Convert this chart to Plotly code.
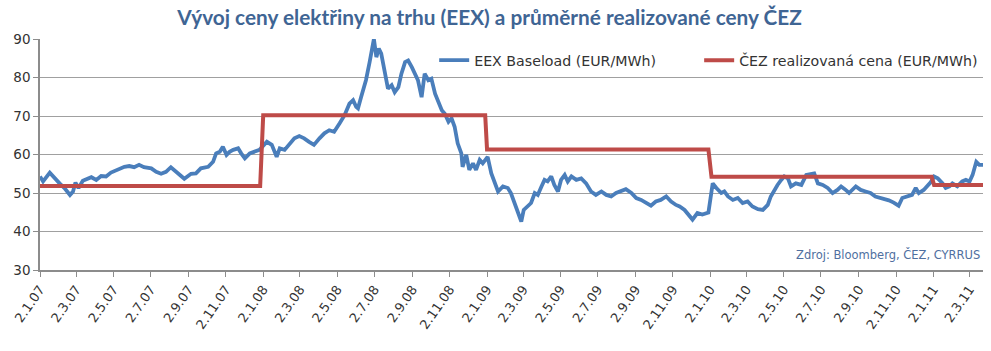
import plotly.graph_objects as go

# ---------------- data ----------------
eex_dates = [
    "2007-01-02", "2007-01-07", "2007-01-18", "2007-01-26", "2007-02-03", "2007-02-11", "2007-02-20",
    "2007-02-25", "2007-03-01", "2007-03-06", "2007-03-13", "2007-03-27", "2007-04-04", "2007-04-12",
    "2007-04-20", "2007-04-28", "2007-05-09", "2007-05-20", "2007-05-28", "2007-06-05", "2007-06-13",
    "2007-06-21", "2007-07-03", "2007-07-11", "2007-07-19", "2007-07-27", "2007-08-04", "2007-08-15",
    "2007-08-26", "2007-09-06", "2007-09-14", "2007-09-22", "2007-10-04", "2007-10-12", "2007-10-17",
    "2007-10-23", "2007-10-28", "2007-11-03", "2007-11-08", "2007-11-14", "2007-11-22", "2007-11-27",
    "2007-12-03", "2007-12-11", "2007-12-19", "2007-12-27",
    "2008-01-08", "2008-01-16", "2008-01-24", "2008-01-29", "2008-02-06", "2008-02-14", "2008-02-22",
    "2008-03-01", "2008-03-09", "2008-03-17", "2008-03-25", "2008-04-03", "2008-04-11", "2008-04-19",
    "2008-04-27", "2008-05-06", "2008-05-14", "2008-05-22", "2008-05-28", "2008-06-02", "2008-06-05",
    "2008-06-10", "2008-06-18", "2008-06-24", "2008-06-28", "2008-07-01", "2008-07-05", "2008-07-09",
    "2008-07-13", "2008-07-19", "2008-07-24", "2008-07-30", "2008-08-04", "2008-08-10", "2008-08-15",
    "2008-08-21", "2008-08-26", "2008-09-01", "2008-09-06", "2008-09-11", "2008-09-17", "2008-09-22",
    "2008-09-28", "2008-10-03", "2008-10-09", "2008-10-14", "2008-10-20", "2008-10-25", "2008-10-31",
    "2008-11-05", "2008-11-10", "2008-11-15", "2008-11-21", "2008-11-23", "2008-11-29", "2008-12-04",
    "2008-12-10", "2008-12-15", "2008-12-21", "2008-12-26",
    "2009-01-03", "2009-01-09", "2009-01-14", "2009-01-20", "2009-01-28", "2009-02-05", "2009-02-10",
    "2009-02-16", "2009-02-21", "2009-02-27", "2009-03-03", "2009-03-10", "2009-03-15", "2009-03-21",
    "2009-03-26", "2009-04-01", "2009-04-06", "2009-04-11", "2009-04-17", "2009-04-22", "2009-04-28",
    "2009-05-03", "2009-05-09", "2009-05-14", "2009-05-20", "2009-05-28", "2009-06-05", "2009-06-13",
    "2009-06-21", "2009-06-29", "2009-07-08", "2009-07-16", "2009-07-24", "2009-08-01", "2009-08-09",
    "2009-08-17", "2009-08-26", "2009-09-03", "2009-09-11", "2009-09-19", "2009-09-27", "2009-10-05",
    "2009-10-13", "2009-10-22", "2009-10-30", "2009-11-07", "2009-11-13", "2009-11-21", "2009-11-29",
    "2009-12-04", "2009-12-12", "2009-12-20", "2009-12-30",
    "2010-01-04", "2010-01-06", "2010-01-12", "2010-01-20", "2010-01-25", "2010-01-31", "2010-02-08",
    "2010-02-16", "2010-02-24", "2010-03-04", "2010-03-12", "2010-03-21", "2010-03-29", "2010-04-06",
    "2010-04-11", "2010-04-17", "2010-04-22", "2010-04-28", "2010-05-03", "2010-05-09", "2010-05-14",
    "2010-05-22", "2010-05-31", "2010-06-08", "2010-06-16", "2010-06-21", "2010-06-27", "2010-07-05",
    "2010-07-13", "2010-07-21", "2010-07-29", "2010-08-04", "2010-08-10", "2010-08-17", "2010-08-28",
    "2010-09-05", "2010-09-13", "2010-09-21", "2010-09-29", "2010-10-10", "2010-10-21", "2010-10-29",
    "2010-11-06", "2010-11-12", "2010-11-20", "2010-11-28", "2010-12-04", "2010-12-09", "2010-12-17",
    "2010-12-23", "2010-12-28",
    "2011-01-03", "2011-01-09", "2011-01-17", "2011-01-22", "2011-01-28", "2011-02-02", "2011-02-10",
    "2011-02-18", "2011-02-24", "2011-03-02", "2011-03-07", "2011-03-13", "2011-03-18", "2011-03-24",
]
eex_values = [
    54.3, 53.0, 55.3, 53.8, 52.5, 51.3, 49.5,
    50.4, 52.7, 51.3, 53.2, 54.1, 53.4, 54.4,
    54.3, 55.3, 56.0, 56.8, 57.0, 56.7, 57.3,
    56.7, 56.4, 55.5, 55.0, 55.5, 56.7, 55.1,
    53.7, 55.0, 55.1, 56.4, 56.8, 58.1, 60.3,
    60.7, 62.0, 59.9, 60.7, 61.2, 61.6, 60.3,
    59.0, 60.3, 60.7, 61.2,
    63.3, 62.5, 59.4, 61.6, 61.2, 62.9, 64.2,
    64.8, 64.2, 63.3, 62.5, 64.2, 65.5, 66.3,
    65.9, 68.1, 70.2, 73.2, 74.1, 72.4, 72.0,
    74.9, 79.3, 84.0, 87.9, 90.0, 85.3, 87.5,
    86.2, 81.8, 77.1, 78.0, 76.2, 77.5, 81.0,
    84.0, 84.4, 82.7, 81.0, 79.3, 74.9, 81.0,
    79.3, 79.7, 75.8, 73.6, 71.5, 70.6, 68.5,
    69.4, 67.2, 62.9, 60.3, 56.8, 59.9, 56.0,
    57.7, 56.0, 58.6, 57.7,
    59.4, 55.1, 53.0, 50.4, 51.7, 51.3, 50.0,
    47.4, 44.8, 42.6, 45.6, 46.5, 47.4, 50.0,
    49.5, 51.7, 53.4, 53.0, 54.3, 52.1, 50.4,
    53.4, 54.7, 53.0, 54.3, 53.4, 53.8, 52.5,
    50.4, 49.5, 50.4, 49.5, 49.1, 50.0, 50.4,
    51.0, 50.0, 48.7, 48.2, 47.4, 46.7, 47.8,
    48.2, 49.1, 47.8, 46.9, 46.5, 45.6, 43.9,
    43.1, 44.8, 44.4, 44.9,
    51.7, 52.5, 51.3, 50.0, 50.4, 49.1, 48.2,
    48.7, 47.4, 47.8, 46.5, 45.8, 45.6, 46.9,
    49.1, 50.8, 52.1, 53.4, 54.3, 53.8, 51.7,
    52.5, 52.1, 54.7, 55.0, 55.1, 52.5, 52.1,
    51.3, 50.0, 50.8, 51.7, 51.0, 50.0, 51.7,
    50.8, 50.4, 50.0, 49.1, 48.7, 48.1, 47.5,
    46.7, 48.7, 49.1, 49.5, 51.3, 50.0, 50.8,
    51.8, 52.7,
    54.3, 53.8, 52.5, 51.3, 51.7, 52.5, 51.7,
    53.0, 53.4, 53.0, 54.7, 58.1, 57.3, 57.3,
]

cez_dates = ["2007-01-02", "2007-12-28", "2008-01-02", "2008-12-30", "2009-01-02",
             "2009-12-30", "2010-01-04", "2010-12-30", "2011-01-03", "2011-03-24"]
cez_values = [51.8, 51.8, 70.2, 70.2, 61.3, 61.3, 54.2, 54.2, 52.1, 52.1]

tick_dates = ["2007-01-02", "2007-03-02", "2007-05-02", "2007-07-02", "2007-09-02", "2007-11-02",
              "2008-01-02", "2008-03-02", "2008-05-02", "2008-07-02", "2008-09-02", "2008-11-02",
              "2009-01-02", "2009-03-02", "2009-05-02", "2009-07-02", "2009-09-02", "2009-11-02",
              "2010-01-02", "2010-03-02", "2010-05-02", "2010-07-02", "2010-09-02", "2010-11-02",
              "2011-01-02", "2011-03-02"]
tick_labels = ["2.1.07", "2.3.07", "2.5.07", "2.7.07", "2.9.07", "2.11.07",
               "2.1.08", "2.3.08", "2.5.08", "2.7.08", "2.9.08", "2.11.08",
               "2.1.09", "2.3.09", "2.5.09", "2.7.09", "2.9.09", "2.11.09",
               "2.1.10", "2.3.10", "2.5.10", "2.7.10", "2.9.10", "2.11.10",
               "2.1.11", "2.3.11"]

title_text = "Vývoj ceny elektřiny na trhu (EEX) a průměrné realizované ceny ČEZ"
source_text = "Zdroj: Bloomberg, ČEZ, CYRRUS"
name_eex = "EEX Baseload (EUR/MWh)"
name_cez = "ČEZ realizovaná cena (EUR/MWh)"

# ---------------- figure ----------------
fig = go.Figure()
fig.add_trace(go.Scatter(x=eex_dates, y=eex_values, mode="lines", name=name_eex,
                         line=dict(color="#4A7EBB", width=3.8), legend="legend"))
fig.add_trace(go.Scatter(x=cez_dates, y=cez_values, mode="lines", name=name_cez,
                         line=dict(color="#BE4B48", width=4), legend="legend2"))

axis_gray = "#8C8C8C"
legend_font = dict(family="DejaVu Sans", size=14.2, color="#333333")
fig.update_layout(
    width=991, height=351,
    margin=dict(l=40, r=8, t=38.5, b=80.5),
    paper_bgcolor="white", plot_bgcolor="white",
    font=dict(family="DejaVu Sans", size=13, color="#333333"),
    title=dict(text="<b>" + title_text + "</b>", x=0.494, xanchor="center", y=0.95, yanchor="middle",
               yref="container",
               font=dict(family="Lato", size=20.8, color="#3F6594")),
    showlegend=True,
    legend=dict(orientation="h", x=0.418, xanchor="left", y=0.907, yanchor="middle",
                bgcolor="rgba(0,0,0,0)", font=legend_font, itemwidth=30),
    legend2=dict(orientation="h", x=0.699, xanchor="left", y=0.907, yanchor="middle",
                 bgcolor="rgba(0,0,0,0)", font=legend_font, itemwidth=30),
    xaxis=dict(type="date", range=["2007-01-02", "2011-03-24"],
               tickmode="array", tickvals=tick_dates, ticktext=tick_labels,
               tickangle=-55, ticks="outside", ticklen=5, tickcolor=axis_gray,
               showline=True, linecolor=axis_gray, linewidth=1.5, showgrid=False, zeroline=False,
               tickfont=dict(family="DejaVu Sans", size=13, color="#333333")),
    yaxis=dict(range=[30, 90], dtick=10, tick0=30, ticks="outside", ticklen=5, tickcolor=axis_gray,
               showline=True, linecolor=axis_gray, linewidth=1.5,
               showgrid=True, gridcolor="#A0A0A0", gridwidth=1, zeroline=False,
               tickfont=dict(family="DejaVu Sans", size=13.5, color="#333333")),
    annotations=[dict(text=source_text, xref="paper", yref="paper", x=0.9985, y=0.066,
                      xanchor="right", yanchor="middle", showarrow=False,
                      font=dict(family="DejaVu Sans", size=11.5, color="#4F6FA0"))],
)

fig.write_html("out.html")
